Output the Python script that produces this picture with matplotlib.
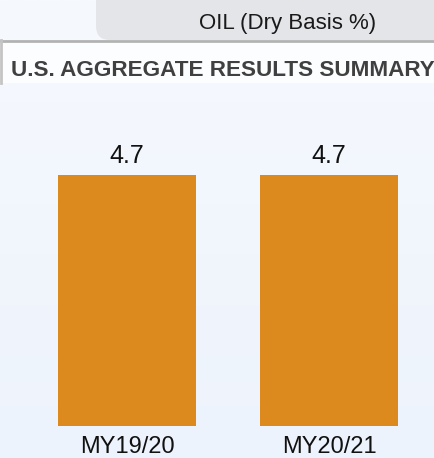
import matplotlib
matplotlib.use("Agg")
import matplotlib.pyplot as plt
from matplotlib.patches import FancyBboxPatch, Rectangle
import numpy as np

categories = ["MY19/20", "MY20/21"]
values = [4.7, 4.7]
value_labels = ["4.7", "4.7"]
tab_title = "OIL (Dry Basis %)"
header = "U.S. AGGREGATE RESULTS SUMMARY"

W, H = 435, 458
NARROW = ["Liberation Sans Narrow", "Liberation Sans", "DejaVu Sans"]
REGULAR = ["Liberation Sans", "DejaVu Sans"]

fig = plt.figure(figsize=(W / 100, H / 100), dpi=100)

# background (pixel coordinates, y down)
bg = fig.add_axes([0, 0, 1, 1])
bg.set_xlim(0, W)
bg.set_ylim(H, 0)
bg.axis("off")
grad = np.linspace(0, 1, 256).reshape(-1, 1)
cmap = matplotlib.colors.LinearSegmentedColormap.from_list("bgc", ["#f6f9fe", "#edf3fc"])
bg.imshow(grad, cmap=cmap, extent=[0, W, H, 0], aspect="auto", zorder=0)

# tab at the top
bg.add_patch(FancyBboxPatch((96, -20), W, 60, boxstyle="round,pad=0,rounding_size=14",
                            facecolor="#e4e5e8", edgecolor="none", zorder=1))
bg.text(288, 23, tab_title, ha="center", va="center", fontsize=16,
        family=NARROW, color="#1a1a1a", zorder=3)

# header box
bg.add_patch(Rectangle((0, 41), W, 42, facecolor="#fcfdff", edgecolor="none", zorder=1))
bg.plot([0, W], [40.5, 40.5], color="#b3b3b3", lw=2, zorder=2)
bg.plot([1, 1], [40, 83], color="#c4c4c4", lw=2, zorder=2)
bg.text(11, 70, header, ha="left", va="center", fontsize=16.2, fontweight="bold",
        family=NARROW, color="#404040", zorder=3)

# bars
ax = fig.add_axes([0, (H - 426) / H, 1, (426 - 100) / H])
ax.patch.set_alpha(0)
x = np.arange(len(categories))
ax.bar(x, values, width=0.683, color="#dc8a1e", edgecolor="none")
for xi, v, lab in zip(x, values, value_labels):
    ax.text(xi, v + 0.13, lab, ha="center", va="bottom", fontsize=18,
            family=NARROW, color="#111111")
ax.set_xlim(-0.629, 1.525)
ax.set_ylim(0, 6.1)
ax.set_xticks(x)
ax.set_xticklabels(categories, fontsize=17, family=REGULAR, color="#111111")
ax.tick_params(axis="x", length=0, pad=7)
ax.set_yticks([])
for s in ax.spines.values():
    s.set_visible(False)

fig.savefig("out.png", dpi=100)
